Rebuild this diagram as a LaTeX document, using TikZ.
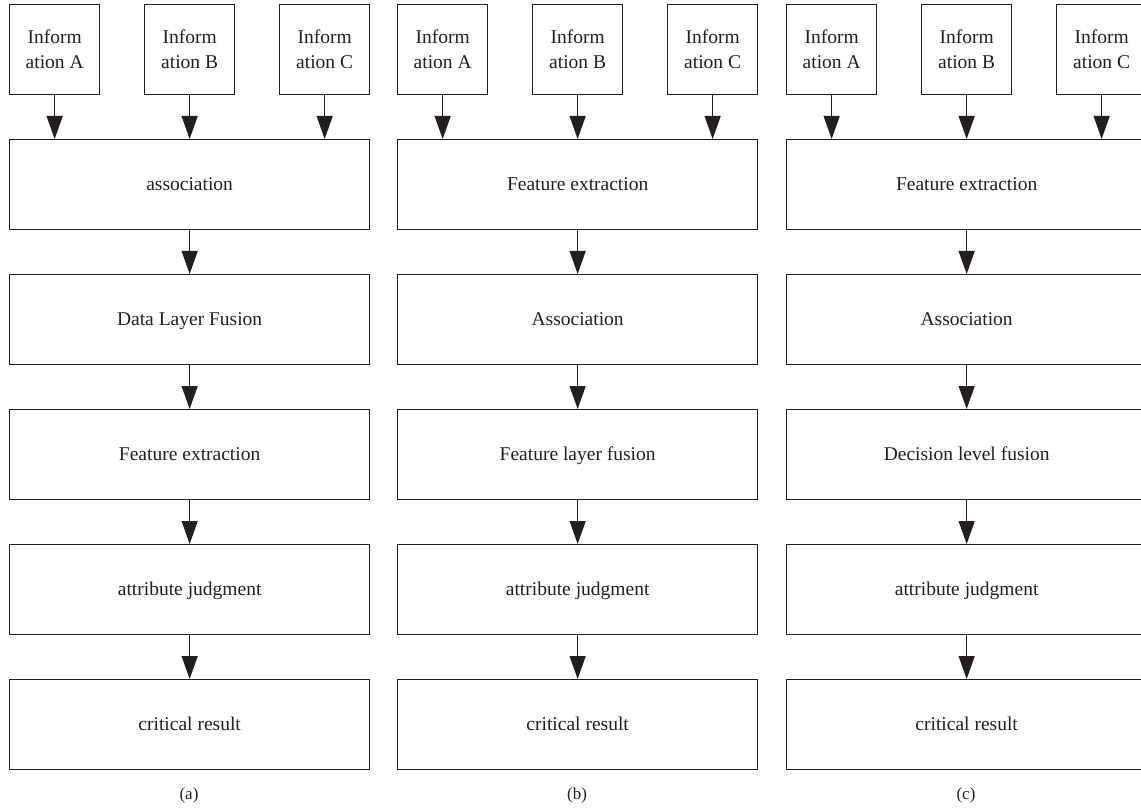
\documentclass[tikz,border=0pt]{standalone}
\usepackage{fontspec}
\setmainfont{Liberation Serif}
\usetikzlibrary{arrows.meta}
\definecolor{ink}{HTML}{231F20}
\tikzset{
  stepbox/.style={draw=ink, line width=1.3pt, minimum width=360pt, minimum height=90pt,
    inner sep=0pt, anchor=north west, text=ink, text height=15pt, text depth=3pt,
    font=\fontsize{19.5}{25}\selectfont},
  infobox/.style={draw=ink, line width=1.3pt, minimum width=90pt, minimum height=90pt,
    inner sep=0pt, anchor=north west, align=center, text=ink, font=\fontsize{19.5}{25}\selectfont},
  arr/.style={draw=ink, line width=1.3pt, -{Triangle[width=16pt,length=23pt]}},
  captext/.style={text=ink, font=\fontsize{17}{20}\selectfont}
}
\newcommand\mypanel[8]{%
  \begin{scope}[xshift=#1, name prefix=#2-]
    \node[infobox] (iA) at (9,4) {Inform\\ation A};
    \node[infobox] (iB) at (144,4) {Inform\\ation B};
    \node[infobox] (iC) at (279,4) {Inform\\ation C};
    \node[stepbox] (s1) at (9,139) {#3};
    \node[stepbox] (s2) at (9,274) {#4};
    \node[stepbox] (s3) at (9,409) {#5};
    \node[stepbox] (s4) at (9,544) {#6};
    \node[stepbox] (s5) at (9,679) {#7};
    \node[captext] (lab) at (189,795) {#8};
    \draw[arr] (iA.south) -- (iA.south |- s1.north);
    \draw[arr] (iB.south) -- (iB.south |- s1.north);
    \draw[arr] (iC.south) -- (iC.south |- s1.north);
    \draw[arr] (s1) -- (s2);
    \draw[arr] (s2) -- (s3);
    \draw[arr] (s3) -- (s4);
    \draw[arr] (s4) -- (s5);
  \end{scope}}
\begin{document}
\begin{tikzpicture}[x=1pt, y=-1pt]
  \useasboundingbox (0,0) rectangle (1141,810);
  \clip (0,0) rectangle (1141,810);
  \mypanel{0pt}{a}{association}{Data Layer Fusion}{Feature extraction}{attribute judgment}{critical result}{(a)}
  \mypanel{388pt}{b}{Feature extraction}{Association}{Feature layer fusion}{attribute judgment}{critical result}{(b)}
  \mypanel{777pt}{c}{Feature extraction}{Association}{Decision level fusion}{attribute judgment}{critical result}{(c)}
\end{tikzpicture}
\end{document}
